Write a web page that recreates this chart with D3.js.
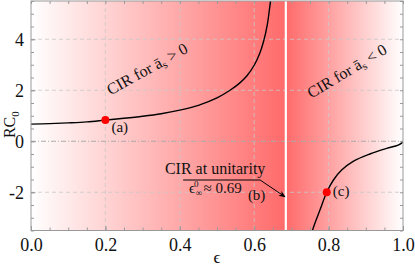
<!DOCTYPE html>
<html><head><meta charset="utf-8">
<script src="https://cdn.jsdelivr.net/npm/d3@7"></script>
<style>body{margin:0;background:#fff}svg{display:block}</style>
</head><body><svg id="c" width="415" height="266"></svg>
<script>
// ---- data ----
const branchLeftEps = [0,0.05,0.10,0.15,0.20,0.25,0.30,0.35,0.40,0.45,0.50,0.535,0.56,0.58,0.60,0.615,0.625,0.635,0.643,0.65];
const branchLeftRC  = [0.67,0.69,0.72,0.76,0.83,0.90,0.98,1.08,1.22,1.41,1.70,2.0,2.27,2.56,2.98,3.45,3.9,4.55,5.4,6.2];
const branchRightEps = [0.745,0.757,0.777,0.795,0.813,0.835,0.866,0.911,0.956,0.987,1.0];
const branchRightRC  = [-4.2,-3.48,-2.69,-2.0,-1.52,-1.13,-0.79,-0.50,-0.28,-0.15,-0.03];
const markedEps = [0.20,0.795];
const markedRC  = [0.83,-2.0];
const markedLabels = ["(a)","(c)"];
const unitarityEps = 0.685;
const xTicks = [0,0.2,0.4,0.6,0.8,1.0];
const yTicks = [-2,0,2,4];
const xDomain = [0,1], yDomain = [-3.5,5.5];

const FONT = "Liberation Serif";
const W=415,H=266, m={l:31,r:12,t:1,b:35.5};
const svg=d3.select("#c");
const x=d3.scaleLinear().domain(xDomain).range([m.l,W-m.r]);
const y=d3.scaleLinear().domain(yDomain).range([H-m.b,m.t]);
const defs=svg.append("defs");
const g=defs.append("linearGradient").attr("id","bg").attr("gradientUnits","userSpaceOnUse")
  .attr("x1",x(0)).attr("x2",x(1)).attr("y1",0).attr("y2",0);
g.append("stop").attr("offset",0).attr("stop-color","#ffffff");
g.append("stop").attr("offset",unitarityEps).attr("stop-color","#ff6a6a");
g.append("stop").attr("offset",1).attr("stop-color","#ffffff");
defs.append("clipPath").attr("id","clip").append("rect")
  .attr("x",x(0)).attr("y",y(5.5)).attr("width",x(1)-x(0)).attr("height",y(-3.5)-y(5.5));

svg.append("rect").attr("x",x(0)).attr("y",y(5.5)).attr("width",x(1)-x(0)).attr("height",y(-3.5)-y(5.5)).attr("fill","url(#bg)");

// grid
const grid=svg.append("g");
grid.selectAll(".gx").data(xTicks.filter(d=>d>0&&d<1)).join("line")
  .attr("x1",d=>x(d)).attr("x2",d=>x(d)).attr("y1",y(5.5)).attr("y2",y(-3.5))
  .attr("stroke","#c8c8c8").attr("stroke-opacity",0.8).attr("stroke-dasharray","4,3");
grid.selectAll(".gy").data(yTicks.filter(d=>d!==0)).join("line")
  .attr("y1",d=>y(d)).attr("y2",d=>y(d)).attr("x1",x(0)).attr("x2",x(1))
  .attr("stroke","#c8c8c8").attr("stroke-opacity",0.8).attr("stroke-dasharray","4,3");
grid.append("line").attr("y1",y(0)).attr("y2",y(0)).attr("x1",x(0)).attr("x2",x(1))
  .attr("stroke","#aaa").attr("stroke-dasharray","5,2,1,2");

// unitarity line
svg.append("line").attr("x1",x(unitarityEps)).attr("x2",x(unitarityEps)).attr("y1",y(5.5)).attr("y2",y(-3.5))
  .attr("stroke","#fff").attr("stroke-width",2.2);

// curves
const line=d3.line().x(d=>x(d[0])).y(d=>y(d[1])).curve(d3.curveCatmullRom.alpha(0.5));
const cg=svg.append("g").attr("clip-path","url(#clip)");
cg.append("path").attr("d",line(d3.zip(branchLeftEps,branchLeftRC))).attr("fill","none").attr("stroke","#000").attr("stroke-width",1.4);
cg.append("path").attr("d",line(d3.zip(branchRightEps,branchRightRC))).attr("fill","none").attr("stroke","#000").attr("stroke-width",1.4);

// frame
svg.append("rect").attr("x",x(0)).attr("y",y(5.5)).attr("width",x(1)-x(0)).attr("height",y(-3.5)-y(5.5))
  .attr("fill","none").attr("stroke","#999").attr("stroke-width",1);

// ticks
const xMinor=d3.range(0,1.0001,0.05), yMinor=d3.range(-3.5,5.5001,0.5);
function addAxis(ax,tr){const a=svg.append("g").attr("transform",tr).call(ax);a.select(".domain").remove();a.selectAll("line").attr("stroke","#999");a.attr("font-family",FONT).attr("font-size",18);return a;}
addAxis(d3.axisBottom(x).tickValues(xMinor).tickSize(-3).tickFormat(""),`translate(0,${y(-3.5)})`);
addAxis(d3.axisTop(x).tickValues(xMinor).tickSize(-3).tickFormat(""),`translate(0,${y(5.5)})`);
addAxis(d3.axisLeft(y).tickValues(yMinor).tickSize(-3).tickFormat(""),`translate(${x(0)},0)`);
addAxis(d3.axisRight(y).tickValues(yMinor).tickSize(-3).tickFormat(""),`translate(${x(1)},0)`);
const xa=addAxis(d3.axisBottom(x).tickValues(xTicks).tickSize(-4.5).tickPadding(7.5).tickFormat(d3.format(".1f")),`translate(0,${y(-3.5)})`);
xa.selectAll("text").attr("font-size",18).attr("font-family",FONT).attr("fill","#111");
const ya=addAxis(d3.axisLeft(y).tickValues(yTicks).tickSize(-4.5).tickPadding(7).tickFormat(d=>String(d)),`translate(${x(0)},0)`);
ya.selectAll("text").attr("font-size",18).attr("font-family",FONT).attr("fill","#111");

function T(sel){return sel.attr("font-family",FONT).attr("fill","#111");}
// axis labels
T(svg.append("text")).attr("x",x(0.5)).attr("y",263).attr("text-anchor","middle").attr("font-size",17).text("ϵ");
const yl=T(svg.append("text")).attr("transform",`translate(15,${y(0.65)}) rotate(-90)`).attr("text-anchor","middle").attr("font-size",16);
yl.append("tspan").text("RC");
yl.append("tspan").attr("dy",4).attr("font-size",11).text("0");

// marked points
svg.selectAll(".pt").data(d3.zip(markedEps,markedRC,markedLabels)).join("circle")
  .attr("cx",d=>x(d[0])).attr("cy",d=>y(d[1])).attr("r",4).attr("fill","#ff0000");
T(svg.selectAll(".pl").data(d3.zip(markedEps,markedRC,markedLabels)).join("text"))
  .attr("x",d=>x(d[0])+6).attr("y",(d,i)=>y(d[1])+(i===0?12:4)).attr("font-size",15).text(d=>d[2]);

// region labels
function regionLabel(ex,ry,ang,sign){
  const t=T(svg.append("text")).attr("transform",`translate(${x(ex)},${y(ry)}) rotate(${ang})`)
    .attr("text-anchor","middle").attr("dy","0.35em").attr("font-size",16);
  t.append("tspan").text("CIR for ā");
  t.append("tspan").attr("dy",3).attr("font-size",11).text("s");
  t.append("tspan").attr("dy",-3).text(" "+sign+" 0");
}
regionLabel(0.312,2.84,-29,">");
regionLabel(0.849,2.76,-31,"<");

// unitarity annotation
T(svg.append("text")).attr("x",x(0.495)).attr("y",y(-1.30)).attr("text-anchor","middle").attr("font-size",16).text("CIR at unitarity");
defs.append("marker").attr("id","arr").attr("viewBox","0 0 10 10").attr("refX",9).attr("refY",5)
  .attr("markerWidth",7).attr("markerHeight",7).attr("orient","auto")
  .append("path").attr("d","M0,1 L10,5 L0,9 L3,5 Z").attr("fill","#000");
svg.append("path").attr("d",`M${x(0.409)},${y(-1.52)} L${x(0.616)},${y(-1.52)} L${x(0.683)},${y(-2.18)}`)
  .attr("fill","none").attr("stroke","#000").attr("stroke-width",1).attr("marker-end","url(#arr)");
const e=T(svg.append("text")).attr("x",x(0.425)).attr("y",y(-2.02)).attr("font-size",15);
e.append("tspan").text("ϵ");
e.append("tspan").attr("dx",0.5).attr("dy",3).attr("font-size",9).text("∞");
e.append("tspan").attr("dx",-8).attr("dy",-9).attr("font-size",9).text("0");
e.append("tspan").attr("dx",5).attr("dy",6).text("≈ 0.69");
T(svg.append("text")).attr("x",x(0.583)).attr("y",y(-2.30)).attr("font-size",15).text("(b)");
</script></body></html>
